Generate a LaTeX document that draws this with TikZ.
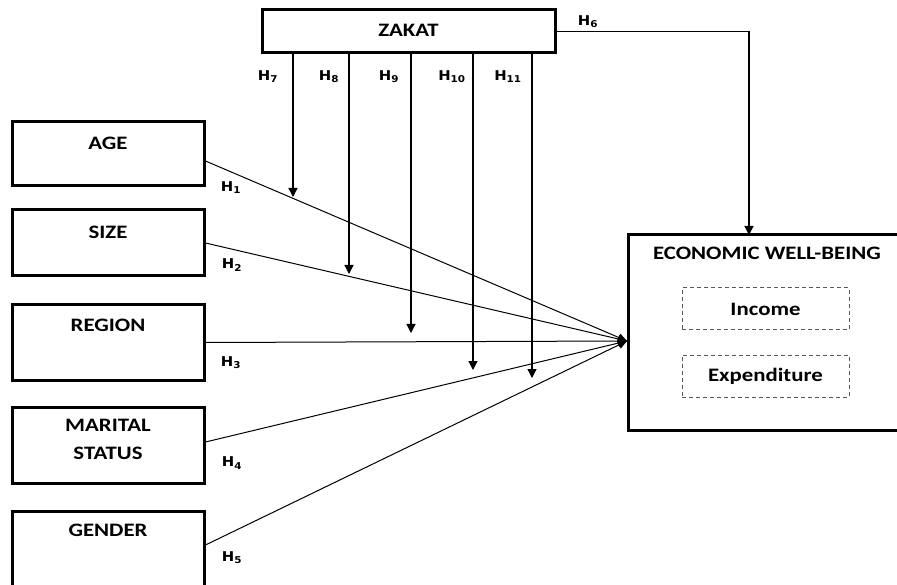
\documentclass[tikz,border=0pt]{standalone}
\usepackage{fontspec}
\setmainfont{Carlito}
\newfontfamily\boxfont[FakeStretch=1.2]{Carlito}
\newfontfamily\hfont[FakeStretch=1.1]{DejaVu Sans}
\usetikzlibrary{arrows.meta}
\tikzset{
  box/.style={draw=black, line width=3pt, fill=white, inner sep=0pt},
  dbox/.style={draw=black!65, dashed, dash pattern=on 4pt off 3pt, line width=1pt, inner sep=0pt, minimum width=167pt, minimum height=42pt, font=\boxfont\fontsize{19}{22}\selectfont\bfseries},
  txt/.style={font=\boxfont\fontsize{19}{28}\selectfont\bfseries, inner sep=0pt, align=center},
  hlbl/.style={font=\hfont\fontsize{13.5}{15}\selectfont\bfseries, inner sep=0pt},
  arr/.style={line width=1.3pt, -{Triangle[length=9pt,width=9pt]}},
  carr/.style={line width=1pt, -{Triangle[length=9pt,width=8pt]}}
}
\begin{document}
\begin{tikzpicture}[x=1pt,y=-1pt]
\useasboundingbox (0,0) rectangle (897,585);
\clip (0,0) rectangle (897,585);
% boxes
\node[box, minimum width=293pt, minimum height=43pt] (zakat) at (408.5,31.5) {};
\node[txt] (zakatt) at (408.5,30) {ZAKAT};
\node[box, minimum width=192pt, minimum height=64pt] (age) at (108,154) {};
\node[box, minimum width=192pt, minimum height=66pt] (size) at (108,243) {};
\node[box, minimum width=192pt, minimum height=75pt] (region) at (108,342.5) {};
\node[box, minimum width=192pt, minimum height=76pt] (marital) at (108,445) {};
\node[box, minimum width=192pt, minimum height=78pt] (gender) at (108,550) {};
\node[txt] (aget) at (108,143) {AGE};
\node[txt] (sizet) at (108,232) {SIZE};
\node[txt] (regiont) at (108,325) {REGION};
\node[txt] (maritalt) at (108,439) {MARITAL\\STATUS};
\node[txt] (gendert) at (108,530) {GENDER};
\node[box, minimum width=275pt, minimum height=195pt] (econ) at (765.5,332.5) {};
\node[txt] (econt) at (767,253) {ECONOMIC WELL-BEING};
\node[dbox] (income) at (765.5,309) {Income};
\node[dbox] (expend) at (765.5,376) {Expenditure};
% convergence point
\coordinate (conv) at (627,341);
% predictor lines
\draw[carr] ([yshift=-7pt]age.east) -- (conv);
\draw[carr] (size.east) -- (conv);
\draw[carr] (region.east) -- (conv);
\draw[carr] ([yshift=3pt]marital.east) -- (conv);
\draw[carr] ([yshift=5pt]gender.east) -- (conv);
% moderating arrows
\coordinate (t7) at (293,197);
\coordinate (t8) at (349,274);
\coordinate (t9) at (411,333);
\coordinate (t10) at (473,370);
\coordinate (t11) at (532,378);
\foreach \t in {t7,t8,t9,t10,t11}{
  \draw[arr] (zakat.south -| \t) -- (\t);
}
% H6
\coordinate (e6) at (749,235);
\draw[arr] (zakat.east) -| (e6);
% labels
\node[hlbl] (h1) at (231,188) {H\textsubscript{1}};
\node[hlbl] (h2) at (232,265) {H\textsubscript{2}};
\node[hlbl] (h3) at (231,363) {H\textsubscript{3}};
\node[hlbl] (h4) at (232,463) {H\textsubscript{4}};
\node[hlbl] (h5) at (232,558) {H\textsubscript{5}};
\node[hlbl] (h6) at (588,22) {H\textsubscript{6}};
\node[hlbl] (h7) at (268,77) {H\textsubscript{7}};
\node[hlbl] (h8) at (329,77) {H\textsubscript{8}};
\node[hlbl] (h9) at (389,77) {H\textsubscript{9}};
\node[hlbl] (h10) at (452,77) {H\textsubscript{10}};
\node[hlbl] (h11) at (508,77) {H\textsubscript{11}};
\end{tikzpicture}
\end{document}
